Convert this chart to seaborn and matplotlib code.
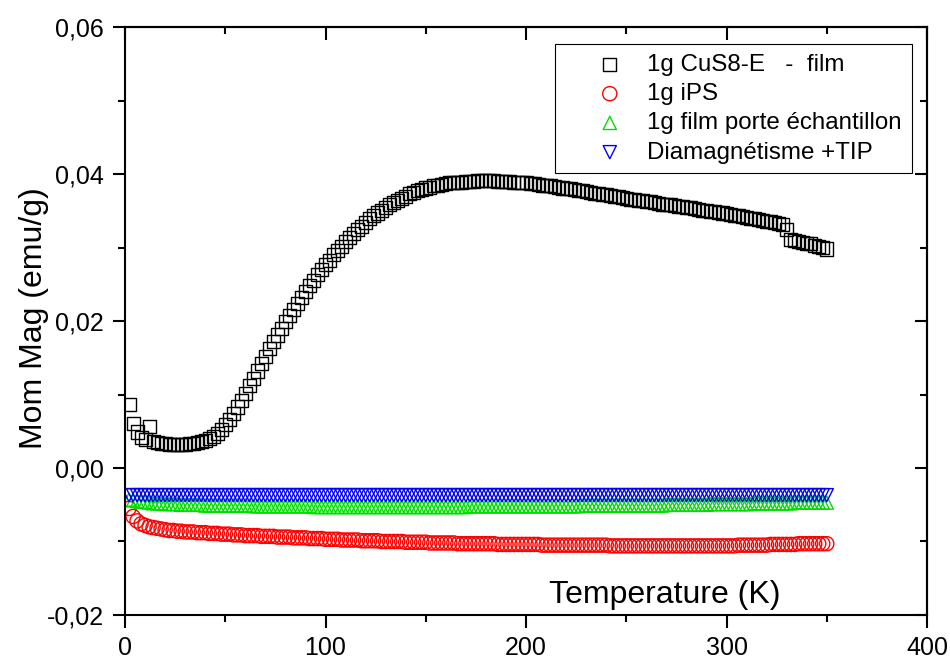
import seaborn as sns
import matplotlib.pyplot as plt
from matplotlib.ticker import MultipleLocator, FuncFormatter

# Temperature grid (K), shared by all four series
temperature_k = [
    2, 4, 6, 8, 10, 12, 14, 16, 18, 20,
    22, 24, 26, 28, 30, 32, 34, 36, 38, 40,
    42, 44, 46, 48, 50, 52, 54, 56, 58, 60,
    62, 64, 66, 68, 70, 72, 74, 76, 78, 80,
    82, 84, 86, 88, 90, 92, 94, 96, 98, 100,
    102, 104, 106, 108, 110, 112, 114, 116, 118, 120,
    122, 124, 126, 128, 130, 132, 134, 136, 138, 140,
    142, 144, 146, 148, 150, 152, 154, 156, 158, 160,
    162, 164, 166, 168, 170, 172, 174, 176, 178, 180,
    182, 184, 186, 188, 190, 192, 194, 196, 198, 200,
    202, 204, 206, 208, 210, 212, 214, 216, 218, 220,
    222, 224, 226, 228, 230, 232, 234, 236, 238, 240,
    242, 244, 246, 248, 250, 252, 254, 256, 258, 260,
    262, 264, 266, 268, 270, 272, 274, 276, 278, 280,
    282, 284, 286, 288, 290, 292, 294, 296, 298, 300,
    302, 304, 306, 308, 310, 312, 314, 316, 318, 320,
    322, 324, 326, 328, 330, 332, 334, 336, 338, 340,
    342, 344, 346, 348, 350,
]

# Mom Mag (emu/g)
cus8_film = [
    0.0086, 0.0061, 0.0049, 0.0042, 0.0039, 0.0057, 0.0036, 0.0035, 0.0034, 0.0033,
    0.0032, 0.0032, 0.0032, 0.0032, 0.0032, 0.0033, 0.0034, 0.0035, 0.0036, 0.0038,
    0.0040, 0.0043, 0.0047, 0.0052, 0.0059, 0.0066, 0.0074, 0.0083, 0.0092, 0.0102,
    0.0112, 0.0122, 0.0132, 0.0142, 0.0152, 0.0162, 0.0172, 0.0181, 0.0190, 0.0199,
    0.0208, 0.0216, 0.0224, 0.0232, 0.0240, 0.0248, 0.0255, 0.0263, 0.0270, 0.0277,
    0.0283, 0.0290, 0.0296, 0.0302, 0.0308, 0.0313, 0.0319, 0.0324, 0.0329, 0.0334,
    0.0339, 0.0343, 0.0347, 0.0351, 0.0354, 0.0358, 0.0361, 0.0364, 0.0367, 0.0370,
    0.0373, 0.0375, 0.0377, 0.0379, 0.0381, 0.0382, 0.0384, 0.0385, 0.0386, 0.0387,
    0.0388, 0.0388, 0.0389, 0.0389, 0.0390, 0.0390, 0.0390, 0.0391, 0.0391, 0.0391,
    0.0391, 0.0391, 0.0390, 0.0390, 0.0390, 0.0390, 0.0389, 0.0389, 0.0388, 0.0388,
    0.0387, 0.0387, 0.0386, 0.0385, 0.0385, 0.0384, 0.0383, 0.0382, 0.0381, 0.0380,
    0.0380, 0.0379, 0.0378, 0.0377, 0.0376, 0.0375, 0.0374, 0.0373, 0.0372, 0.0372,
    0.0371, 0.0370, 0.0369, 0.0368, 0.0367, 0.0366, 0.0365, 0.0364, 0.0364, 0.0363,
    0.0362, 0.0361, 0.0360, 0.0359, 0.0359, 0.0358, 0.0357, 0.0356, 0.0356, 0.0355,
    0.0354, 0.0353, 0.0352, 0.0351, 0.0350, 0.0349, 0.0349, 0.0348, 0.0347, 0.0346,
    0.0345, 0.0344, 0.0343, 0.0342, 0.0341, 0.0340, 0.0339, 0.0338, 0.0337, 0.0336,
    0.0335, 0.0334, 0.0333, 0.0332, 0.0324, 0.0311, 0.0310, 0.0308, 0.0307, 0.0306,
    0.0305, 0.0303, 0.0302, 0.0300, 0.0298,
]

ips = [
    -0.0055, -0.0066, -0.0072, -0.0076, -0.0078, -0.0080, -0.0081, -0.0082, -0.0083, -0.0084,
    -0.0085, -0.0085, -0.0086, -0.0086, -0.0087, -0.0087, -0.0087, -0.0088, -0.0088, -0.0088,
    -0.0089, -0.0089, -0.0089, -0.0090, -0.0090, -0.0090, -0.0091, -0.0091, -0.0091, -0.0092,
    -0.0092, -0.0092, -0.0092, -0.0093, -0.0093, -0.0093, -0.0093, -0.0094, -0.0094, -0.0094,
    -0.0094, -0.0095, -0.0095, -0.0095, -0.0095, -0.0096, -0.0096, -0.0096, -0.0096, -0.0097,
    -0.0097, -0.0097, -0.0097, -0.0098, -0.0098, -0.0098, -0.0098, -0.0098, -0.0099, -0.0099,
    -0.0099, -0.0099, -0.0099, -0.0100, -0.0100, -0.0100, -0.0100, -0.0100, -0.0100, -0.0101,
    -0.0101, -0.0101, -0.0101, -0.0101, -0.0101, -0.0102, -0.0102, -0.0102, -0.0102, -0.0102,
    -0.0102, -0.0102, -0.0103, -0.0103, -0.0103, -0.0103, -0.0103, -0.0103, -0.0103, -0.0103,
    -0.0103, -0.0103, -0.0104, -0.0104, -0.0104, -0.0104, -0.0104, -0.0104, -0.0104, -0.0104,
    -0.0104, -0.0104, -0.0104, -0.0105, -0.0105, -0.0105, -0.0105, -0.0105, -0.0105, -0.0105,
    -0.0105, -0.0105, -0.0105, -0.0105, -0.0105, -0.0105, -0.0105, -0.0105, -0.0105, -0.0105,
    -0.0106, -0.0106, -0.0106, -0.0106, -0.0106, -0.0106, -0.0106, -0.0106, -0.0106, -0.0106,
    -0.0106, -0.0106, -0.0106, -0.0106, -0.0106, -0.0106, -0.0106, -0.0106, -0.0106, -0.0106,
    -0.0106, -0.0106, -0.0106, -0.0106, -0.0106, -0.0106, -0.0106, -0.0106, -0.0106, -0.0106,
    -0.0106, -0.0106, -0.0105, -0.0105, -0.0105, -0.0105, -0.0105, -0.0105, -0.0105, -0.0105,
    -0.0104, -0.0104, -0.0104, -0.0104, -0.0104, -0.0104, -0.0104, -0.0103, -0.0103, -0.0103,
    -0.0103, -0.0103, -0.0103, -0.0103, -0.0103,
]

film_holder = [
    -0.0043, -0.0044, -0.0045, -0.0046, -0.0046, -0.0047, -0.0048, -0.0048, -0.0048, -0.0049,
    -0.0049, -0.0049, -0.0049, -0.0050, -0.0050, -0.0050, -0.0050, -0.0050, -0.0050, -0.0051,
    -0.0051, -0.0051, -0.0051, -0.0051, -0.0051, -0.0051, -0.0051, -0.0051, -0.0051, -0.0051,
    -0.0051, -0.0052, -0.0052, -0.0052, -0.0052, -0.0052, -0.0052, -0.0052, -0.0052, -0.0052,
    -0.0052, -0.0052, -0.0052, -0.0052, -0.0052, -0.0052, -0.0053, -0.0053, -0.0053, -0.0053,
    -0.0053, -0.0053, -0.0053, -0.0053, -0.0053, -0.0053, -0.0053, -0.0053, -0.0053, -0.0053,
    -0.0053, -0.0053, -0.0053, -0.0053, -0.0053, -0.0053, -0.0053, -0.0053, -0.0053, -0.0053,
    -0.0053, -0.0053, -0.0053, -0.0053, -0.0053, -0.0053, -0.0053, -0.0053, -0.0053, -0.0053,
    -0.0053, -0.0053, -0.0053, -0.0053, -0.0053, -0.0052, -0.0052, -0.0052, -0.0052, -0.0052,
    -0.0052, -0.0052, -0.0052, -0.0052, -0.0052, -0.0052, -0.0052, -0.0052, -0.0052, -0.0052,
    -0.0052, -0.0052, -0.0052, -0.0052, -0.0052, -0.0052, -0.0052, -0.0052, -0.0052, -0.0052,
    -0.0052, -0.0052, -0.0052, -0.0051, -0.0051, -0.0051, -0.0051, -0.0051, -0.0051, -0.0051,
    -0.0051, -0.0051, -0.0051, -0.0051, -0.0051, -0.0051, -0.0051, -0.0051, -0.0051, -0.0051,
    -0.0051, -0.0051, -0.0051, -0.0051, -0.0050, -0.0050, -0.0050, -0.0050, -0.0050, -0.0050,
    -0.0050, -0.0050, -0.0050, -0.0050, -0.0050, -0.0049, -0.0049, -0.0049, -0.0049, -0.0049,
    -0.0049, -0.0049, -0.0049, -0.0049, -0.0049, -0.0049, -0.0048, -0.0048, -0.0048, -0.0048,
    -0.0048, -0.0048, -0.0048, -0.0048, -0.0048, -0.0048, -0.0047, -0.0047, -0.0047, -0.0047,
    -0.0047, -0.0047, -0.0047, -0.0047, -0.0047,
]

diamag_tip = [
    -0.0037, -0.0037, -0.0037, -0.0037, -0.0037, -0.0037, -0.0037, -0.0037, -0.0037, -0.0037,
    -0.0037, -0.0037, -0.0037, -0.0037, -0.0037, -0.0037, -0.0037, -0.0037, -0.0037, -0.0037,
    -0.0037, -0.0037, -0.0037, -0.0037, -0.0037, -0.0037, -0.0037, -0.0037, -0.0037, -0.0037,
    -0.0037, -0.0037, -0.0037, -0.0037, -0.0037, -0.0037, -0.0037, -0.0037, -0.0037, -0.0037,
    -0.0037, -0.0037, -0.0037, -0.0037, -0.0037, -0.0037, -0.0037, -0.0037, -0.0037, -0.0037,
    -0.0037, -0.0037, -0.0037, -0.0037, -0.0037, -0.0037, -0.0037, -0.0037, -0.0037, -0.0037,
    -0.0037, -0.0037, -0.0037, -0.0037, -0.0037, -0.0037, -0.0037, -0.0037, -0.0037, -0.0037,
    -0.0037, -0.0037, -0.0037, -0.0037, -0.0037, -0.0037, -0.0037, -0.0037, -0.0037, -0.0037,
    -0.0037, -0.0037, -0.0037, -0.0037, -0.0037, -0.0037, -0.0037, -0.0037, -0.0037, -0.0037,
    -0.0037, -0.0037, -0.0037, -0.0037, -0.0037, -0.0037, -0.0037, -0.0037, -0.0037, -0.0037,
    -0.0037, -0.0037, -0.0037, -0.0037, -0.0037, -0.0037, -0.0037, -0.0037, -0.0037, -0.0037,
    -0.0037, -0.0037, -0.0037, -0.0037, -0.0037, -0.0037, -0.0037, -0.0037, -0.0037, -0.0037,
    -0.0037, -0.0037, -0.0037, -0.0037, -0.0037, -0.0037, -0.0037, -0.0037, -0.0037, -0.0037,
    -0.0037, -0.0037, -0.0037, -0.0037, -0.0037, -0.0037, -0.0037, -0.0037, -0.0037, -0.0037,
    -0.0037, -0.0037, -0.0037, -0.0037, -0.0037, -0.0037, -0.0037, -0.0037, -0.0037, -0.0037,
    -0.0037, -0.0037, -0.0037, -0.0037, -0.0037, -0.0037, -0.0037, -0.0037, -0.0037, -0.0037,
    -0.0037, -0.0037, -0.0037, -0.0037, -0.0037, -0.0037, -0.0037, -0.0037, -0.0037, -0.0037,
    -0.0037, -0.0037, -0.0037, -0.0037, -0.0037,
]

series_labels = [
    "1g CuS8-E   -  film",
    "1g iPS",
    "1g film porte échantillon",
    "Diamagnétisme +TIP",
]

sns.set_style("ticks", {
    "axes.edgecolor": "black",
    "xtick.color": "black",
    "ytick.color": "black",
    "text.color": "black",
    "axes.labelcolor": "black",
})
plt.rcParams["font.family"] = ["Liberation Sans", "DejaVu Sans"]

fig, ax = plt.subplots(figsize=(9.5, 6.6), dpi=100)
fig.subplots_adjust(left=0.1316, right=0.9758, bottom=0.0682, top=0.959)

# Step 1. Draw the four series, hollow markers
styles = [("s", "black", 88), ("o", "red", 104), ("^", "#00dd00", 90), ("v", "blue", 90)]
for values, label, (marker, color, size) in zip(
    [cus8_film, ips, film_holder, diamag_tip], series_labels, styles
):
    sns.scatterplot(
        x=temperature_k,
        y=values,
        marker=marker,
        s=size,
        facecolor="none",
        edgecolor=color,
        linewidth=1.0,
        label=label,
        ax=ax,
    )

# Step 2. Axes, ticks and labels
ax.set_xlim(0, 400)
ax.set_ylim(-0.02, 0.06)
ax.xaxis.set_major_locator(MultipleLocator(100))
ax.xaxis.set_minor_locator(MultipleLocator(50))
ax.yaxis.set_major_locator(MultipleLocator(0.02))
ax.yaxis.set_minor_locator(MultipleLocator(0.01))


def comma_fmt(v, _):
    if abs(v) < 1e-9:
        v = 0.0
    return f"{v:.2f}".replace(".", ",")


ax.yaxis.set_major_formatter(FuncFormatter(comma_fmt))
ax.tick_params(which="major", direction="out", length=9, width=1.5,
               labelsize=18, pad=6)
ax.tick_params(which="minor", direction="out", length=5, width=1.5)
for side in ax.spines.values():
    side.set_linewidth(1.5)

# inward ticks on top and right
top = ax.secondary_xaxis("top")
top.xaxis.set_major_locator(MultipleLocator(100))
top.xaxis.set_minor_locator(MultipleLocator(50))
top.tick_params(which="major", direction="in", length=9, width=1.5, labeltop=False)
top.tick_params(which="minor", direction="in", length=5, width=1.5)
right = ax.secondary_yaxis("right")
right.yaxis.set_major_locator(MultipleLocator(0.02))
right.yaxis.set_minor_locator(MultipleLocator(0.01))
right.tick_params(which="major", direction="in", length=9, width=1.5, labelright=False)
right.tick_params(which="minor", direction="in", length=5, width=1.5)
for sec in (top, right):
    for side in sec.spines.values():
        side.set_linewidth(1.5)

ax.set_xlabel("Temperature (K)", fontsize=23)
ax.xaxis.set_label_coords(0.673, 0.008)
ax.xaxis.label.set_va("bottom")
ax.set_ylabel("Mom Mag (emu/g)", fontsize=23)
ax.yaxis.set_label_coords(-0.095, 0.505)

# Step 3. Legend
leg = ax.legend(
    loc="upper right",
    bbox_to_anchor=(0.981, 0.971),
    borderaxespad=0,
    fancybox=False,
    framealpha=1,
    edgecolor="black",
    fontsize=17.4,
    handlelength=3.7,
    handletextpad=-0.29,
    borderpad=0.4,
    labelspacing=0.3,
    scatterpoints=1,
)
leg.get_frame().set_linewidth(0.8)

plt.savefig("out.png", format="png", dpi=100)
plt.close()
